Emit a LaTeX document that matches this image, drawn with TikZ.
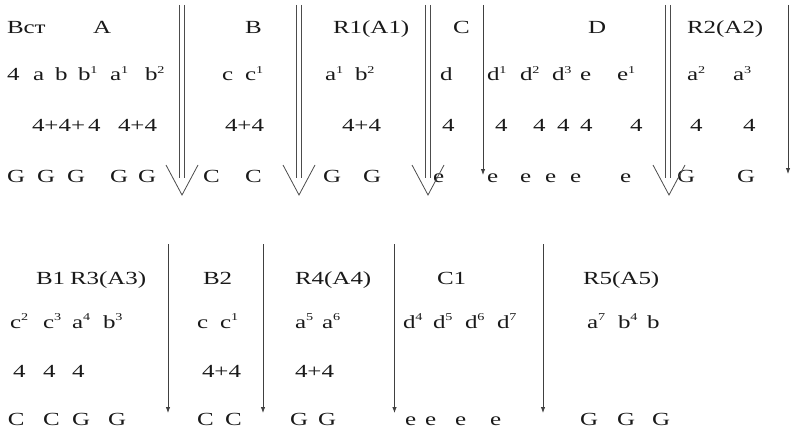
\documentclass[tikz,border=0pt]{standalone}
\usepackage{fontspec}
\setmainfont{Liberation Serif}[FakeStretch=1.35]
\usetikzlibrary{arrows.meta,calc}

% raised index digit
\newcommand\spr[1]{\raisebox{7.5pt}{\fontsize{10.5}{10.5}\selectfont #1}}

\tikzset{
  lbl/.style={anchor=base west, inner sep=0pt, outer sep=0pt, text=black!90,
              font=\fontsize{18.5}{20}\selectfont},
  rail/.style={draw=black!70, line width=0.8pt},
  vhead/.style={draw=black!70, line width=0.8pt, line join=miter},
  sarrow/.style={draw=black!75, line width=0.8pt, -{Latex[length=6pt,width=4.5pt]}}
}

% double arrow: two rails from (#1) down to (#2), open V ending at (#3)
\newcommand\dblarrow[3]{%
  \draw[rail] ($(#1)+(-2.6,0)$) -- ($(#2)+(-2.6,0)$);
  \draw[rail] ($(#1)+(2.6,0)$) -- ($(#2)+(2.6,0)$);
  \draw[vhead] ($(#3)+(-16,-30)$) -- (#3) -- ($(#3)+(16,-30)$);
}

\begin{document}
\begin{tikzpicture}[x=1pt, y=-1pt]
\useasboundingbox (0,0) rectangle (791,433);

% ---------- upper system ----------
% row of section names
\node[lbl] (h1) at (7,34)   {Вст};
\node[lbl] (h2) at (93,34)  {A};
\node[lbl] (h3) at (245,34) {B};
\node[lbl] (h4) at (333,34) {R1(A1)};
\node[lbl] (h5) at (453,34) {C};
\node[lbl] (h6) at (588,34) {D};
\node[lbl] (h7) at (687,34) {R2(A2)};

% row of phrases
\node[lbl] (p1)  at (7,81)   {4};
\node[lbl] (p2)  at (33,81)  {a};
\node[lbl] (p3)  at (55,81)  {b};
\node[lbl] (p4)  at (78,81)  {b\spr{1}};
\node[lbl] (p5)  at (110,81) {a\spr{1}};
\node[lbl] (p6)  at (145,81) {b\spr{2}};
\node[lbl] (p7)  at (222,81) {c};
\node[lbl] (p8)  at (245,81) {c\spr{1}};
\node[lbl] (p9)  at (325,81) {a\spr{1}};
\node[lbl] (p10) at (355,81) {b\spr{2}};
\node[lbl] (p11) at (440,81) {d};
\node[lbl] (p12) at (487,81) {d\spr{1}};
\node[lbl] (p13) at (520,81) {d\spr{2}};
\node[lbl] (p14) at (552,81) {d\spr{3}};
\node[lbl] (p15) at (580,81) {e};
\node[lbl] (p16) at (617,81) {e\spr{1}};
\node[lbl] (p17) at (687,81) {a\spr{2}};
\node[lbl] (p18) at (733,81) {a\spr{3}};

% row of bar counts
\node[lbl] (m1)  at (32,131)  {4+4+};
\node[lbl] (m2)  at (88,131)  {4};
\node[lbl] (m3)  at (118,131) {4+4};
\node[lbl] (m4)  at (225,131) {4+4};
\node[lbl] (m5)  at (342,131) {4+4};
\node[lbl] (m6)  at (442,131) {4};
\node[lbl] (m7)  at (495,131) {4};
\node[lbl] (m8)  at (533,131) {4};
\node[lbl] (m9)  at (557,131) {4};
\node[lbl] (m10) at (580,131) {4};
\node[lbl] (m11) at (630,131) {4};
\node[lbl] (m12) at (690,131) {4};
\node[lbl] (m13) at (743,131) {4};

% row of keys
\node[lbl] (k1)  at (7,182)   {G};
\node[lbl] (k2)  at (37,182)  {G};
\node[lbl] (k3)  at (67,182)  {G};
\node[lbl] (k4)  at (110,182) {G};
\node[lbl] (k5)  at (138,182) {G};
\node[lbl] (k6)  at (203,182) {C};
\node[lbl] (k7)  at (245,182) {C};
\node[lbl] (k8)  at (323,182) {G};
\node[lbl] (k9)  at (363,182) {G};
\node[lbl] (k10) at (433,182) {e};
\node[lbl] (k11) at (487,182) {e};
\node[lbl] (k12) at (520,182) {e};
\node[lbl] (k13) at (545,182) {e};
\node[lbl] (k14) at (570,182) {e};
\node[lbl] (k15) at (620,182) {e};
\node[lbl] (k16) at (677,182) {G};
\node[lbl] (k17) at (737,182) {G};

% double arrows (main section borders)
\coordinate (dt1) at (182,5);  \coordinate (de1) at (182,178);  \coordinate (dp1) at (182,195);
\coordinate (dt2) at (299,5);  \coordinate (de2) at (299,178);  \coordinate (dp2) at (299,195);
\coordinate (dt3) at (428,5);  \coordinate (de3) at (428,178);  \coordinate (dp3) at (428,195);
\coordinate (dt4) at (668,5);  \coordinate (de4) at (668,178);  \coordinate (dp4) at (669,195);
\dblarrow{dt1}{de1}{dp1}
\dblarrow{dt2}{de2}{dp2}
\dblarrow{dt3}{de3}{dp3}
\dblarrow{dt4}{de4}{dp4}

% single arrows (upper system)
\coordinate (sa1) at (483,5);   \coordinate (sb1) at (483,175);
\coordinate (sa2) at (788,5);   \coordinate (sb2) at (788,174);
\draw[sarrow] (sa1) -- (sb1);
\draw[sarrow] (sa2) -- (sb2);

% ---------- lower system ----------
\node[lbl] (h8)  at (36,284)  {B1};
\node[lbl] (h9)  at (70,284)  {R3(A3)};
\node[lbl] (h10) at (203,284) {B2};
\node[lbl] (h11) at (295,284) {R4(A4)};
\node[lbl] (h12) at (437,284) {C1};
\node[lbl] (h13) at (583,284) {R5(A5)};

\node[lbl] (q1)  at (10,328)  {c\spr{2}};
\node[lbl] (q2)  at (43,328)  {c\spr{3}};
\node[lbl] (q3)  at (72,328)  {a\spr{4}};
\node[lbl] (q4)  at (103,328) {b\spr{3}};
\node[lbl] (q5)  at (197,328) {c};
\node[lbl] (q6)  at (220,328) {c\spr{1}};
\node[lbl] (q7)  at (295,328) {a\spr{5}};
\node[lbl] (q8)  at (322,328) {a\spr{6}};
\node[lbl] (q9)  at (403,328) {d\spr{4}};
\node[lbl] (q10) at (433,328) {d\spr{5}};
\node[lbl] (q11) at (465,328) {d\spr{6}};
\node[lbl] (q12) at (497,328) {d\spr{7}};
\node[lbl] (q13) at (587,328) {a\spr{7}};
\node[lbl] (q14) at (618,328) {b\spr{4}};
\node[lbl] (q15) at (647,328) {b};

\node[lbl] (n1) at (13,377)  {4};
\node[lbl] (n2) at (43,377)  {4};
\node[lbl] (n3) at (72,377)  {4};
\node[lbl] (n4) at (202,377) {4+4};
\node[lbl] (n5) at (295,377) {4+4};

\node[lbl] (r1)  at (8,425)   {C};
\node[lbl] (r2)  at (43,425)  {C};
\node[lbl] (r3)  at (72,425)  {G};
\node[lbl] (r4)  at (108,425) {G};
\node[lbl] (r5)  at (197,425) {C};
\node[lbl] (r6)  at (225,425) {C};
\node[lbl] (r7)  at (290,425) {G};
\node[lbl] (r8)  at (318,425) {G};
\node[lbl] (r9)  at (405,425) {e};
\node[lbl] (r10) at (425,425) {e};
\node[lbl] (r11) at (455,425) {e};
\node[lbl] (r12) at (490,425) {e};
\node[lbl] (r13) at (580,425) {G};
\node[lbl] (r14) at (617,425) {G};
\node[lbl] (r15) at (652,425) {G};

% single arrows (lower system)
\coordinate (sa3) at (168,244);   \coordinate (sb3) at (168,413);
\coordinate (sa4) at (263,244);   \coordinate (sb4) at (263,413);
\coordinate (sa5) at (394.5,244); \coordinate (sb5) at (394.5,413);
\coordinate (sa6) at (543,244);   \coordinate (sb6) at (543,413);
\draw[sarrow] (sa3) -- (sb3);
\draw[sarrow] (sa4) -- (sb4);
\draw[sarrow] (sa5) -- (sb5);
\draw[sarrow] (sa6) -- (sb6);
\end{tikzpicture}
\end{document}
